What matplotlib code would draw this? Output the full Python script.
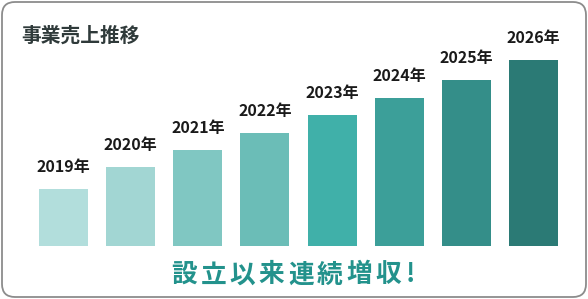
import matplotlib.pyplot as plt
from matplotlib.patches import FancyBboxPatch

plt.rcParams['font.family'] = ['Noto Sans CJK JP', 'DejaVu Sans']

years = ["2019年", "2020年", "2021年", "2022年", "2023年", "2024年", "2025年", "2026年"]
sales = [57, 79, 96, 113, 131, 148, 166, 186]
colors = ["#b2dedc", "#a2d6d3", "#80c7c2", "#6bbdb7", "#40b0a9", "#3c9f99", "#348e89", "#2b7a75"]
title = "事業売上推移"
slogan = "設立以来連続増収!"

fig = plt.figure(figsize=(5.88, 2.99), dpi=100)
W, H = 588, 299

# card background
bg = fig.add_axes([0, 0, 1, 1])
bg.set_xlim(0, W)
bg.set_ylim(H, 0)
bg.axis('off')
card = FancyBboxPatch((2, 2), W - 4, H - 4, boxstyle="round,pad=0,rounding_size=13",
                      facecolor="white", edgecolor="#8c8c8c", linewidth=1.3)
bg.add_patch(card)
bg.text(21, 36, title, fontsize=14.2, fontweight='bold', color="#2f3a3a", va='center', ha='left')

# slogan with letter spacing
step = 29.2
x0 = 184
for i, ch in enumerate(slogan):
    x = x0 + i * step if ch != "!" else x0 + (i - 1) * step + 22
    bg.text(x, 275, ch, fontsize=18.5, fontweight='bold', color="#23928c",
            ha='center', va='center')

# bars
ax = fig.add_axes([30 / W, 53 / H, 537 / W, 200 / H])
ax.set_xlim(-0.5, len(sales) - 0.5)
ax.set_ylim(0, 200)
ax.axis('off')
ax.bar(range(len(sales)), sales, width=0.73, color=colors)
for i, (v, lab) in enumerate(zip(sales, years)):
    ax.annotate(lab, (i, v), xytext=(0, 10), textcoords='offset points',
                ha='center', va='bottom', fontsize=11.5, fontweight='bold', color="#1a1a1a")

fig.savefig("out.png", dpi=100)
